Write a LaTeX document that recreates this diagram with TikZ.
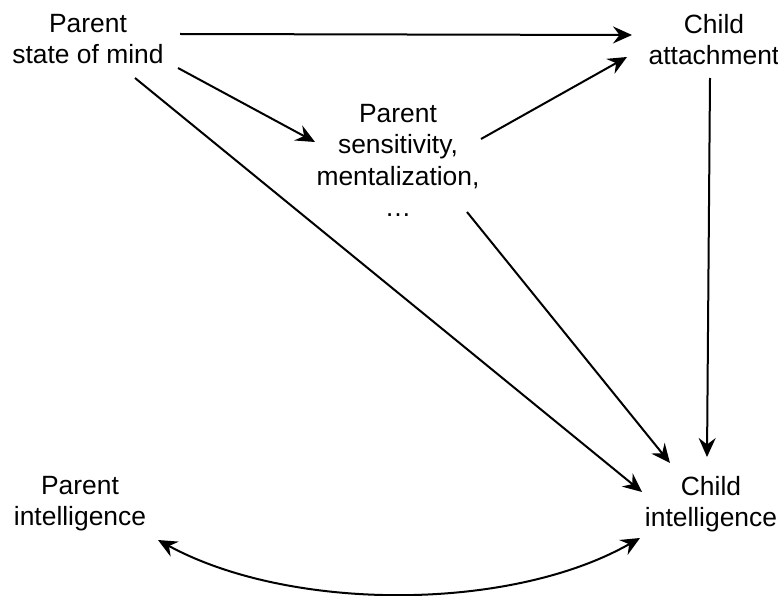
\documentclass[tikz,border=0pt]{standalone}
\usepackage{fontspec}
\setmainfont{Liberation Sans}
\usetikzlibrary{arrows.meta}
\begin{document}
\begin{tikzpicture}[x=1pt,y=-1pt,
  lbl/.style={align=center, anchor=north, inner sep=0pt, outer sep=0pt, font=\fontsize{26.4}{31.5}\selectfont},
  arr/.style={line width=2pt, -{Stealth[length=19pt,width=17pt,inset=6.5pt]}},
  darr/.style={line width=2pt, {Stealth[length=19pt,width=17pt,inset=6.5pt]}-{Stealth[length=19pt,width=17pt,inset=6.5pt]}}]
\useasboundingbox (0,0) rectangle (778,596);
\node[lbl] (psm) at (88,14) {Parent\\state of mind};
\node[lbl] (ca) at (714,14) {Child\\attachment};
\node[lbl] (ps) at (398,104) {Parent\\sensitivity,\\mentalization,\\…};
\node[lbl] (pi) at (80,476) {Parent\\intelligence};
\node[lbl] (ci) at (711,476) {Child\\intelligence};
\draw[arr] ([shift={(92,20)}]psm.north) -- ([shift={(-82,21)}]ca.north);
\draw[arr] ([shift={(90,54)}]psm.north) -- ([shift={(-83,38)}]ps.north);
\draw[arr] ([shift={(83,35)}]ps.north) -- ([shift={(-87,43)}]ca.north);
\draw[arr] ([shift={(47,64)}]psm.north) -- ([shift={(-69,16)}]ci.north);
\draw[arr] ([shift={(69,108)}]ps.north) -- ([shift={(-41,-13)}]ci.north);
\draw[arr] ([shift={(-4,64)}]ca.north) -- ([shift={(-4,-19)}]ci.north);
\draw[darr] ([shift={(78,64)}]pi.north) .. controls +(132,72) and +(-130,74) .. ([shift={(-71,62)}]ci.north);
\end{tikzpicture}
\end{document}
